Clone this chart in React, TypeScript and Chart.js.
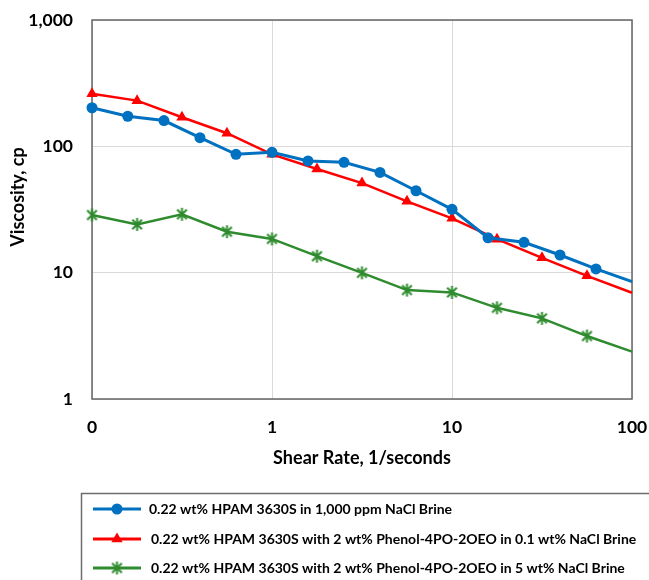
import React, { useEffect, useRef } from 'react';
import { Chart, registerables } from 'chart.js';

Chart.register(...registerables);

const seriesNames = [
  '0.22 wt% HPAM 3630S in 1,000 ppm NaCl Brine',
  '0.22 wt% HPAM 3630S with 2 wt% Phenol-4PO-2OEO in 0.1 wt% NaCl Brine',
  '0.22 wt% HPAM 3630S with 2 wt% Phenol-4PO-2OEO in 5 wt% NaCl Brine',
];

const blueShear = [0.1, 0.158, 0.251, 0.398, 0.631, 1, 1.585, 2.512, 3.981, 6.31, 10, 15.85, 25.12, 39.81, 63.1, 100];
const blueVisc = [202, 173, 160, 117, 86.4, 89.7, 76.6, 74.7, 62.2, 44.5, 31.7, 18.9, 17.4, 13.8, 10.7, 8.5];

const redShear = [0.1, 0.178, 0.316, 0.562, 1, 1.778, 3.162, 5.623, 10, 17.78, 31.62, 56.23, 100];
const redVisc = [261, 230, 170, 127, 86.4, 66.1, 51.2, 36.7, 26.9, 18.4, 13.1, 9.44, 6.93];

const greenShear = [0.1, 0.178, 0.316, 0.562, 1, 1.778, 3.162, 5.623, 10, 17.78, 31.62, 56.23, 100];
const greenVisc = [28.6, 24.1, 29.0, 21.1, 18.5, 13.5, 9.97, 7.28, 6.98, 5.27, 4.35, 3.15, 2.37];

const xTickValues = [0.1, 1, 10, 100];
const xTickLabels = ['0', '1', '10', '100'];
const yTickValues = [1, 10, 100, 1000];
const yTickLabels = ['1', '10', '100', '1,000'];

const xTitle = 'Shear Rate, 1/seconds';
const yTitle = 'Viscosity, cp';

const BLUE = '#0070C0';
const RED = '#FF0000';
const GREEN = '#2E8B2E';
const FONT = 'Lato, "Open Sans", sans-serif';

function makeStar(color: string, r: number, lw: number): HTMLCanvasElement {
  const size = Math.ceil(2 * r + lw + 2);
  const c = document.createElement('canvas');
  c.width = size;
  c.height = size;
  const g = c.getContext('2d')!;
  const cx = size / 2;
  const cy = size / 2;
  g.strokeStyle = color;
  g.lineWidth = lw;
  g.lineCap = 'butt';
  g.beginPath();
  g.moveTo(cx, cy - r);
  g.lineTo(cx, cy + r);
  const d = r * Math.SQRT1_2 * 1.05;
  g.moveTo(cx - d, cy - d);
  g.lineTo(cx + d, cy + d);
  g.moveTo(cx - d, cy + d);
  g.lineTo(cx + d, cy - d);
  g.stroke();
  return c;
}

function pts(xs: number[], ys: number[]) {
  return xs.map((x, i) => ({ x, y: ys[i] }));
}

function radii(n: number, r: number) {
  return Array.from({ length: n }, (_, i) => (i === n - 1 ? 0 : r));
}

function zeroPad(s: any) {
  s.paddingTop = 0;
  s.paddingBottom = 0;
  s.paddingLeft = 0;
  s.paddingRight = 0;
}

export default function App() {
  const ref = useRef<HTMLCanvasElement | null>(null);

  useEffect(() => {
    const canvas = ref.current;
    if (!canvas) return;
    const star = makeStar(GREEN, 6.5, 2);

    const decor = {
      id: 'decor',
      beforeDatasetsDraw(chart: any) {
        const { ctx, chartArea: a } = chart;
        ctx.save();
        ctx.strokeStyle = '#666666';
        ctx.lineWidth = 1.5;
        ctx.strokeRect(a.left, a.top, a.right - a.left, a.bottom - a.top);
        ctx.restore();
      },
      afterDraw(chart: any) {
        const { ctx, chartArea: a } = chart;
        ctx.save();
        ctx.fillStyle = '#000';
        ctx.font = `bold 18px ${FONT}`;
        ctx.textAlign = 'center';
        ctx.textBaseline = 'middle';
        ctx.fillText(xTitle, (a.left + a.right) / 2, 458);
        ctx.save();
        ctx.translate(18, 197);
        ctx.rotate(-Math.PI / 2);
        ctx.fillText(yTitle, 0, 0);
        ctx.restore();

        // legend box
        ctx.strokeStyle = '#6e6e6e';
        ctx.lineWidth = 1.5;
        ctx.strokeRect(81.5, 493.5, 600, 120);

        const rows = [509, 539, 568];
        const colors = [BLUE, RED, GREEN];
        const textX = [149, 151, 151];
        rows.forEach((y, i) => {
          ctx.strokeStyle = colors[i];
          ctx.lineWidth = 3;
          ctx.beginPath();
          ctx.moveTo(93, y);
          ctx.lineTo(141, y);
          ctx.stroke();
          const cx = 117;
          ctx.fillStyle = colors[i];
          if (i === 0) {
            ctx.beginPath();
            ctx.arc(cx, y, 5.5, 0, Math.PI * 2);
            ctx.fill();
          } else if (i === 1) {
            const r = 6.5;
            ctx.beginPath();
            ctx.moveTo(cx, y - r);
            ctx.lineTo(cx + r * Math.sin((2 * Math.PI) / 3), y - r * Math.cos((2 * Math.PI) / 3));
            ctx.lineTo(cx + r * Math.sin((4 * Math.PI) / 3), y - r * Math.cos((4 * Math.PI) / 3));
            ctx.closePath();
            ctx.fill();
          } else {
            ctx.drawImage(star, cx - star.width / 2, y - star.height / 2);
          }
          ctx.fillStyle = '#000';
          ctx.font = `bold 14px ${FONT}`;
          ctx.textAlign = 'left';
          ctx.textBaseline = 'middle';
          ctx.fillText(seriesNames[i], textX[i], y);
        });
        ctx.restore();
      },
    };

    const chart = new Chart(canvas, {
      type: 'line',
      data: {
        datasets: [
          {
            label: seriesNames[0],
            data: pts(blueShear, blueVisc),
            borderColor: BLUE,
            backgroundColor: BLUE,
            borderWidth: 3,
            pointStyle: 'circle',
            pointRadius: radii(blueShear.length, 5.5),
            pointBorderWidth: 0,
            clip: false as any,
          },
          {
            label: seriesNames[1],
            data: pts(redShear, redVisc),
            borderColor: RED,
            backgroundColor: RED,
            borderWidth: 2.5,
            pointStyle: 'triangle',
            pointRadius: radii(redShear.length, 6.5),
            pointBorderWidth: 0,
            clip: false as any,
          },
          {
            label: seriesNames[2],
            data: pts(greenShear, greenVisc),
            borderColor: GREEN,
            backgroundColor: GREEN,
            borderWidth: 2.5,
            pointStyle: star as any,
            pointRadius: radii(greenShear.length, 6.5),
            clip: false as any,
          },
        ],
      },
      options: {
        responsive: false,
        animation: false,
        devicePixelRatio: 1,
        layout: { padding: { left: 0, top: 20, right: 17, bottom: 141 } },
        plugins: { legend: { display: false }, tooltip: { enabled: false } },
        elements: { line: { tension: 0 } },
        scales: {
          x: {
            type: 'logarithmic',
            min: 0.1,
            max: 100,
            afterBuildTicks: (s: any) => {
              s.ticks = xTickValues.map((v) => ({ value: v }));
            },
            afterFit: (s: any) => {
              s.height = 40;
              zeroPad(s);
            },
            ticks: {
              autoSkip: false,
              maxRotation: 0,
              padding: 18,
              color: '#000',
              font: { family: FONT, size: 17.5, weight: 'bold' },
              callback: (v: any) => {
                const i = xTickValues.findIndex((t) => Math.abs(t - Number(v)) < 1e-9);
                return i >= 0 ? xTickLabels[i] : '';
              },
            },
            grid: { color: '#d9d9d9', lineWidth: 1, drawTicks: false },
            border: { display: false },
          },
          y: {
            type: 'logarithmic',
            min: 1,
            max: 1000,
            afterBuildTicks: (s: any) => {
              s.ticks = yTickValues.map((v) => ({ value: v }));
            },
            afterFit: (s: any) => {
              s.width = 92;
              zeroPad(s);
            },
            ticks: {
              autoSkip: false,
              padding: 19,
              color: '#000',
              font: { family: FONT, size: 17.5, weight: 'bold' },
              callback: (v: any) => {
                const i = yTickValues.findIndex((t) => Math.abs(t - Number(v)) < 1e-9);
                return i >= 0 ? yTickLabels[i] : '';
              },
            },
            grid: { color: '#d9d9d9', lineWidth: 1, drawTicks: false },
            border: { display: false },
          },
        },
      },
      plugins: [decor],
    });

    return () => chart.destroy();
  }, []);

  return (
    <div style={{ position: 'absolute', left: 0, top: 0, width: 649, height: 580, background: '#fff' }}>
      <canvas ref={ref} width={649} height={580} style={{ display: 'block' }} />
    </div>
  );
}
